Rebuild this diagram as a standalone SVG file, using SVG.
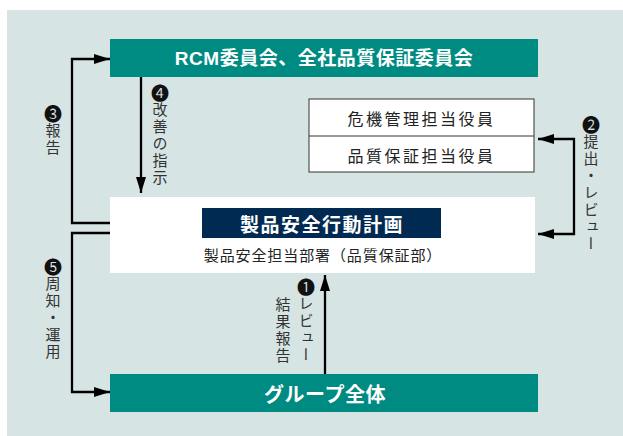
<svg xmlns="http://www.w3.org/2000/svg" width="623" height="436" viewBox="0 0 623 436">
<style>
.teal{fill:#008b82}
.hdr{font-family:"Liberation Sans","Noto Sans CJK JP",sans-serif;font-weight:bold;fill:#fff;text-anchor:middle;dominant-baseline:central}
.jp{font-family:"Noto Sans CJK JP",sans-serif;fill:#222;text-anchor:middle;dominant-baseline:central}
.vt{font-family:"Noto Sans CJK JP",sans-serif;font-size:15px;fill:#333;writing-mode:vertical-rl;text-orientation:upright;letter-spacing:2px}
.num{font-size:18px;fill:#111;letter-spacing:0}
.ln{fill:none;stroke:#000;stroke-width:2.3}
</style>
<defs>
<marker id="ah" viewBox="0 0 16 10" refX="16" refY="5" markerWidth="16" markerHeight="10" markerUnits="userSpaceOnUse" orient="auto-start-reverse">
<path d="M0,0 L16,5 L0,10 z" fill="#000"/>
</marker>
</defs>
<rect x="7" y="10" width="616" height="426" fill="#d7e4e4"/>

<g id="rcm">
<rect class="teal" x="110" y="39" width="428" height="38"/>
<text class="hdr" x="324" y="58.5" font-size="19" letter-spacing="0.5">RCM委員会、全社品質保証委員会</text>
</g>

<g id="officers">
<rect x="309" y="99" width="225" height="73" fill="#fff" stroke="#333" stroke-width="1"/>
<line x1="309" y1="136" x2="534" y2="136" stroke="#333" stroke-width="1"/>
<text class="jp" x="421.5" y="118" font-size="16" letter-spacing="2.5">危機管理担当役員</text>
<text class="jp" x="421.5" y="155" font-size="16" letter-spacing="2.5">品質保証担当役員</text>
</g>

<g id="plan">
<rect x="110" y="197" width="425" height="76" fill="#fff"/>
<rect x="202" y="208" width="239" height="30" fill="#002a52"/>
<text class="hdr" x="322" y="223" font-size="19" letter-spacing="1.5" style="font-family:'Noto Sans CJK JP',sans-serif">製品安全行動計画</text>
<text class="jp" x="323" y="254" font-size="15" letter-spacing="0.9">製品安全担当部署（品質保証部）</text>
</g>

<g id="group">
<rect class="teal" x="110" y="374" width="428" height="38"/>
<text class="hdr" x="325" y="393.5" font-size="20" letter-spacing="0.5" style="font-family:'Noto Sans CJK JP',sans-serif">グループ全体</text>
</g>

<g id="connectors">
<path class="ln" d="M110,223 H72 V59 H110" marker-end="url(#ah)"/>
<path class="ln" d="M110,233 H72 V392 H110" marker-end="url(#ah)"/>
<path class="ln" d="M141,77 V193" marker-end="url(#ah)"/>
<path class="ln" d="M538,139 H574 V234 H538" marker-start="url(#ah)" marker-end="url(#ah)"/>
<path class="ln" d="M325,374 V275" marker-end="url(#ah)"/>
</g>

<g id="labels">
<text class="vt" x="53" y="105"><tspan class="num">❸</tspan>報告</text>
<text class="vt" x="160" y="84"><tspan class="num">❹</tspan>改善の指示</text>
<text class="vt" x="591" y="116"><tspan class="num">❷</tspan>提出・レビュー</text>
<text class="vt" x="53" y="258"><tspan class="num">❺</tspan>周知・運用</text>
<text class="vt" x="306" y="278"><tspan class="num">❶</tspan>レビュー</text>
<text class="vt" x="283" y="297">結果報告</text>
</g>
</svg>
